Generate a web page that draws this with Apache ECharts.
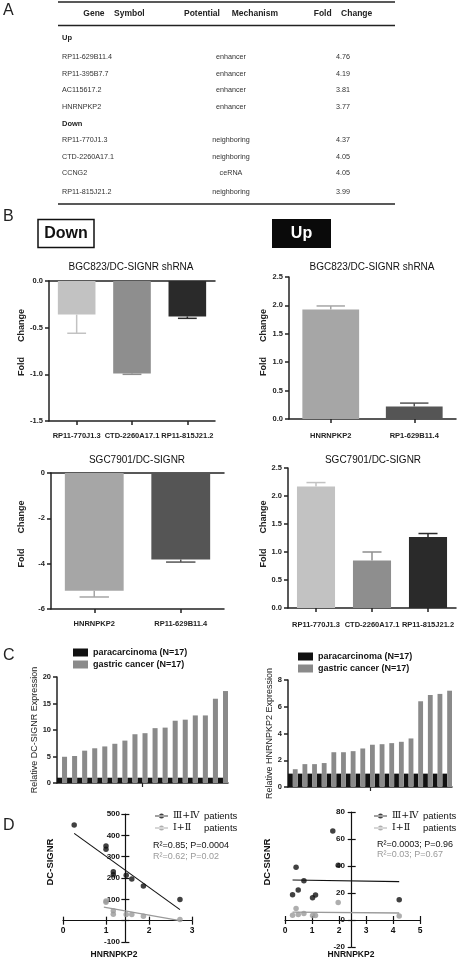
<!DOCTYPE html>
<html><head><meta charset="utf-8">
<script src="https://cdn.jsdelivr.net/npm/echarts@6/dist/echarts.min.js"></script>
<style>html,body{margin:0;padding:0;background:#fff}#c{width:468px;height:960px}</style>
</head><body><div id="c"></div>
<script>
// ---------- Panel A : table ----------
const tableUpGenes = ['RP11-629B11.4','RP11-395B7.7','AC115617.2','HNRNPKP2'];
const tableUpMech = ['enhancer','enhancer','enhancer','enhancer'];
const tableUpFold = ['4.76','4.19','3.81','3.77'];
const tableDownGenes = ['RP11-770J1.3','CTD-2260A17.1','CCNG2','RP11-815J21.2'];
const tableDownMech = ['neighboring','neighboring','ceRNA','neighboring'];
const tableDownFold = ['4.37','4.05','4.05','3.99'];

// ---------- Panel B : qPCR fold change ----------
const bgcDownCats = ['RP11-770J1.3','CTD-2260A17.1','RP11-815J21.2'];
const bgcDownVals = [-0.36,-0.99,-0.38];
const bgcDownErr = [0.20,0.01,0.02];
const bgcUpCats = ['HNRNPKP2','RP1-629B11.4'];
const bgcUpVals = [1.93,0.22];
const bgcUpErr = [0.06,0.06];
const sgcDownCats = ['HNRNPKP2','RP11-629B11.4'];
const sgcDownVals = [-5.2,-3.82];
const sgcDownErr = [0.27,0.11];
const sgcUpCats = ['RP11-770J1.3','CTD-2260A17.1','RP11-815J21.2'];
const sgcUpVals = [2.17,0.85,1.27];
const sgcUpErr = [0.07,0.15,0.06];

// ---------- Panel C : relative expression ----------
const patientIds = ['1','2','3','4','5','6','7','8','9','10','11','12','13','14','15','16','17'];
const paraDC = [1,1,1,1,1,1,1,1,1,1,1,1,1,1,1,1,1];
const cancerDC = [4.95,5.1,6.1,6.55,6.9,7.4,8.0,9.2,9.4,10.35,10.45,11.75,11.95,12.75,12.75,15.9,17.35];
const paraHN = [1,1,1,1,1,1,1,1,1,1,1,1,1,1,1,1,1];
const cancerHN = [1.33,1.71,1.71,1.79,2.6,2.6,2.68,2.88,3.16,3.2,3.28,3.38,3.63,6.41,6.88,6.96,7.2];

// ---------- Panel D : correlation ----------
const dLeftLate = [[0.26,448],[1.0,350],[1.0,335],[1.17,229],[1.17,215],[1.47,213],[1.6,195],[1.87,163],[2.72,99]];
const dLeftEarly = [[1.0,92],[1.0,86],[1.17,46],[1.17,30],[1.47,29],[1.6,29],[1.87,21],[2.72,5]];
const dLeftLateFit = [[0.26,409],[2.72,52]];
const dLeftEarlyFit = [[0.95,63],[2.72,0]];
const dRightLate = [[0.41,39],[0.7,29],[0.49,22.3],[0.28,18.7],[1.02,16.5],[1.13,18.5],[1.77,66],[1.97,40.5],[4.23,15]];
const dRightEarly = [[0.41,8.5],[0.28,3.6],[0.49,4],[0.7,4.8],[1.02,3.4],[1.13,3.4],[1.97,13],[4.23,3]];
const dRightLateFit = [[0.28,29.6],[4.23,28.4]];
const dRightEarlyFit = [[0.28,5.8],[4.23,5.2]];
const statsLeft = ['R²=0.85; P=0.0004','R²=0.62; P=0.02'];
const statsRight = ['R²=0.0003; P=0.96','R²=0.03; P=0.67'];

// ---------- styles ----------
const AX = '#222';
const FONT = '"Liberation Sans", Arial, sans-serif';
const colLight3 = ['#c2c2c2','#8e8e8e','#2a2a2a'];
const colMid2 = ['#a6a6a6','#555555'];

function T(x, y, text, o) {
  o = o || {};
  const st = {
    text: text, x: 0, y: 0,
    font: (o.weight || 'normal') + ' ' + (o.size || 8) + 'px ' + (o.family || FONT),
    fill: o.fill || '#222',
    align: o.align || 'left', verticalAlign: 'middle',
    textAlign: o.align || 'left', textVerticalAlign: 'middle'
  };
  return {type:'text', x:x, y:y, rotation:o.rot || 0, style:st, silent:true};
}
function L(x1, y1, x2, y2, w, c) {
  return {type:'line', shape:{x1:x1,y1:y1,x2:x2,y2:y2}, style:{stroke:c||'#222', lineWidth:w||1}, silent:true};
}

// ---------- graphic (table, labels, boxes) ----------
const G = [];
G.push(T(3, 11, 'A', {size:16}));
G.push(T(3, 217, 'B', {size:16}));
G.push(T(3, 656, 'C', {size:16}));
G.push(T(3, 826, 'D', {size:16}));
// table
G.push(L(58, 2, 395, 2, 1.5));
G.push(L(58, 25.5, 395, 25.5, 1.5));
G.push(L(58, 204, 395, 204, 1.5));
G.push(T(114, 14, 'Gene    Symbol', {size:8.5, weight:'bold', align:'center'}));
G.push(T(231, 14, 'Potential     Mechanism', {size:8.5, weight:'bold', align:'center'}));
G.push(T(343, 14, 'Fold    Change', {size:8.5, weight:'bold', align:'center'}));
G.push(T(62, 38, 'Up', {size:7.5, weight:'bold'}));
tableUpGenes.forEach((g, i) => {
  const y = 57 + i * 16.6;
  G.push(T(62, y, g, {size:7.2, fill:'#333'}));
  G.push(T(231, y, tableUpMech[i], {size:7.2, fill:'#333', align:'center'}));
  G.push(T(343, y, tableUpFold[i], {size:7.2, fill:'#333', align:'center'}));
});
G.push(T(62, 123.5, 'Down', {size:7.5, weight:'bold'}));
tableDownGenes.forEach((g, i) => {
  const y = 140 + i * 16.6 + (i === 3 ? 2.5 : 0);
  G.push(T(62, y, g, {size:7.2, fill:'#333'}));
  G.push(T(231, y, tableDownMech[i], {size:7.2, fill:'#333', align:'center'}));
  G.push(T(343, y, tableDownFold[i], {size:7.2, fill:'#333', align:'center'}));
});
// Down / Up boxes
G.push({type:'rect', shape:{x:38, y:219.5, width:56, height:28}, style:{fill:'#fff', stroke:'#111', lineWidth:1.5}, silent:true});
G.push(T(66, 234, 'Down', {size:16, weight:'bold', align:'center', fill:'#111'}));
G.push({type:'rect', shape:{x:272, y:219, width:59, height:29}, style:{fill:'#0a0a0a'}, silent:true});
G.push(T(301.5, 234, 'Up', {size:16, weight:'bold', align:'center', fill:'#fff'}));
// B titles
G.push(T(131, 267, 'BGC823/DC-SIGNR shRNA', {size:10, align:'center', fill:'#111'}));
G.push(T(372, 267, 'BGC823/DC-SIGNR shRNA', {size:10, align:'center', fill:'#111'}));
G.push(T(137, 460, 'SGC7901/DC-SIGNR', {size:10, align:'center', fill:'#111'}));
G.push(T(373, 460, 'SGC7901/DC-SIGNR', {size:10, align:'center', fill:'#111'}));
// D axis titles & stats
G.push(T(50, 862, 'DC-SIGNR', {size:9.5, weight:'bold', align:'center', rot:Math.PI/2, fill:'#111'}));
G.push(T(267, 862, 'DC-SIGNR', {size:9.5, weight:'bold', align:'center', rot:Math.PI/2, fill:'#111'}));
G.push(T(114, 955, 'HNRNPKP2', {size:8.5, weight:'bold', align:'center', fill:'#111'}));
G.push(T(351, 955, 'HNRNPKP2', {size:8.5, weight:'bold', align:'center', fill:'#111'}));
G.push(T(153, 846, statsLeft[0], {size:9, fill:'#111'}));
G.push(T(153, 857, statsLeft[1], {size:9, fill:'#9a9a9a'}));
G.push(T(377, 845, statsRight[0], {size:9, fill:'#111'}));
G.push(T(377, 855, statsRight[1], {size:9, fill:'#9a9a9a'}));

// ---------- axes helpers ----------
function catAxis(grid, cats, o) {
  return Object.assign({
    type:'category', gridIndex:grid, data:cats,
    axisLine:{show:true, onZero:false, lineStyle:{color:AX, width:1.5}},
    axisTick:{show:true, alignWithLabel:true, length:4, lineStyle:{color:AX, width:1.5}},
    axisLabel:{show:true, color:AX, fontSize:7.5, fontWeight:'bold', margin:11, interval:0, fontFamily:FONT},
    splitLine:{show:false}
  }, o || {});
}
function lineOnlyAxis(grid, cats) {
  return {type:'category', gridIndex:grid, data:cats, position:'top',
    axisLine:{show:true, onZero:false, lineStyle:{color:AX, width:1.5}},
    axisTick:{show:false}, axisLabel:{show:false}, splitLine:{show:false}};
}
function valAxis(grid, min, max, interval, o) {
  return Object.assign({
    type:'value', gridIndex:grid, min:min, max:max, interval:interval,
    axisLine:{show:true, lineStyle:{color:AX, width:1.5}},
    axisTick:{show:true, length:4, lineStyle:{color:AX, width:1.5}},
    axisLabel:{show:true, color:AX, fontSize:7.5, fontWeight:'bold', margin:6, fontFamily:FONT},
    splitLine:{show:false}
  }, o || {});
}
const foldName = (gap, pad) => ({name:'Fold      Change', nameLocation:'middle', nameGap:gap,
  nameTextStyle:{fontSize:9, fontWeight:'bold', color:AX, fontFamily:FONT, padding:[0,0,0,pad]}});

function barSeries(xi, yi, vals, colors) {
  return {type:'bar', xAxisIndex:xi, yAxisIndex:yi, barWidth:'68%', silent:true,
    data: vals.map((v, i) => ({value:v, itemStyle:{color:colors[i]}}))};
}
function errSeries(xi, yi, vals, errs, colors) {
  return {
    type:'custom', xAxisIndex:xi, yAxisIndex:yi, z:3, silent:true,
    data: vals.map((v, i) => [i, v, errs[i]]),
    encode:{x:0, y:1},
    renderItem: function (params, api) {
      const i = api.value(0), v = api.value(1), e = api.value(2);
      const end = v < 0 ? v - e : v + e;
      const p0 = api.coord([i, v]), p1 = api.coord([i, end]);
      const half = api.size([1, 0])[0] * 0.68 * 0.25;
      const st = {stroke: colors[i], lineWidth: 1.5};
      return {type:'group', children:[
        {type:'line', shape:{x1:p0[0], y1:p0[1], x2:p1[0], y2:p1[1]}, style:st},
        {type:'line', shape:{x1:p1[0]-half, y1:p1[1], x2:p1[0]+half, y2:p1[1]}, style:st}
      ]};
    }
  };
}

// D panels: axes cross inside the plot (Prism style). ECharts keeps the labels
// at the grid edge when an axis sits on zero, so the label margins pull them back.
const dTickStyle = {color:'#111', width:1.2};
function dMainX(grid, max, yIdx, margin) {
  return {type:'value', gridIndex:grid, min:0, max:max, interval:1,
    axisLine:{show:true, onZero:true, onZeroAxisIndex:yIdx, lineStyle:dTickStyle},
    axisTick:{show:true, length:4, lineStyle:dTickStyle},
    axisLabel:{show:true, color:'#111', fontSize:8.5, fontWeight:'bold', margin:margin, fontFamily:FONT},
    splitLine:{show:false}};
}
function dHiddenX(grid, min, max) {
  return {type:'value', gridIndex:grid, min:min, max:max, show:false, position:'top',
    axisLine:{onZero:false}, splitLine:{show:false}};
}
function dDupX(grid, max, yIdx) {
  return {type:'value', gridIndex:grid, min:0, max:max, interval:1, position:'top',
    axisLine:{show:false, onZero:true, onZeroAxisIndex:yIdx},
    axisTick:{show:true, length:4, lineStyle:dTickStyle}, axisLabel:{show:false}, splitLine:{show:false}};
}
function dMainY(grid, min, max, itv, xIdx, hideZero, margin) {
  return {type:'value', gridIndex:grid, min:min, max:max, interval:itv, position:'left',
    axisLine:{show:true, onZero:true, onZeroAxisIndex:xIdx, lineStyle:dTickStyle},
    axisTick:{show:true, length:4, lineStyle:dTickStyle},
    axisLabel:{show:true, color:'#111', fontSize:8, fontWeight:'bold', margin:margin, fontFamily:FONT,
      formatter: v => (hideZero && v === 0) ? '' : String(v)},
    splitLine:{show:false}};
}
function dDupY(grid, min, max, itv, xIdx) {
  return {type:'value', gridIndex:grid, min:min, max:max, interval:itv, position:'right',
    axisLine:{show:false, onZero:true, onZeroAxisIndex:xIdx},
    axisTick:{show:true, length:4, lineStyle:dTickStyle}, axisLabel:{show:false}, splitLine:{show:false}};
}

const legendIcon = 'path://M0,2h13v1h-13z M4,2.5a2.5,2.5 0 1,0 5,0a2.5,2.5 0 1,0 -5,0z';
function dLegend(left, top) {
  return {left:left, top:top, orient:'vertical', itemWidth:13, itemHeight:5, itemGap:2, selectedMode:false,
    data:[{name:'Ⅲ+Ⅳ', icon:legendIcon}, {name:'Ⅰ+Ⅱ', icon:legendIcon}],
    formatter: n => '{r|' + n + '}{p|patients}',
    textStyle:{color:'#111', fontSize:9, rich:{
      r:{fontFamily:'"DejaVu Serif", "Liberation Serif", serif', fontSize:9.5, color:'#111', width:31},
      p:{fontFamily:FONT, fontSize:9.5, color:'#111'}}}};
}
function cLegend(left, top) {
  return {left:left, top:top, orient:'vertical', itemWidth:15, itemHeight:8, itemGap:3, icon:'rect', selectedMode:false,
    data:['paracarcinoma (N=17)','gastric cancer (N=17)'],
    textStyle:{color:'#111', fontSize:9, fontWeight:'bold', fontFamily:FONT}};
}
function cXAxis(grid) {
  return {type:'category', gridIndex:grid, data:patientIds,
    axisLine:{show:true, onZero:false, lineStyle:{color:AX, width:1.5}},
    axisTick:{show:true, alignWithLabel:true, length:4, interval:(idx) => idx === 8, lineStyle:{color:AX, width:1.2}},
    axisLabel:{show:false}, splitLine:{show:false}};
}
function cBars(xi, yi, para, cancer) {
  return [
    {type:'bar', name:'paracarcinoma (N=17)', xAxisIndex:xi, yAxisIndex:yi, data:para, barGap:'0%', barCategoryGap:'0%', itemStyle:{color:'#111'}, silent:true},
    {type:'bar', name:'gastric cancer (N=17)', xAxisIndex:xi, yAxisIndex:yi, data:cancer, barGap:'0%', barCategoryGap:'0%', itemStyle:{color:'#8a8a8a'}, silent:true}
  ];
}
function dSeries(xi, yi, late, early, lateFit, earlyFit) {
  return [
    {type:'scatter', name:'Ⅲ+Ⅳ', xAxisIndex:xi, yAxisIndex:yi, data:late, symbolSize:5.5, itemStyle:{color:'#111'}, z:4, silent:true},
    {type:'scatter', name:'Ⅰ+Ⅱ', xAxisIndex:xi, yAxisIndex:yi, data:early, symbolSize:5.5, itemStyle:{color:'#9a9a9a'}, z:4, silent:true},
    {type:'line', name:'Ⅲ+Ⅳ', xAxisIndex:xi, yAxisIndex:yi, data:lateFit, symbol:'none', lineStyle:{color:'#111', width:1.1}, z:3, silent:true},
    {type:'line', name:'Ⅰ+Ⅱ', xAxisIndex:xi, yAxisIndex:yi, data:earlyFit, symbol:'none', lineStyle:{color:'#9a9a9a', width:1.3}, z:3, silent:true}
  ];
}

const option = {
  animation:false,
  backgroundColor:'#fff',
  textStyle:{fontFamily:FONT},
  grid:[
    {left:49, top:281, width:166, height:140, outerBoundsMode:'none'},
    {left:289, top:277, width:167, height:142, outerBoundsMode:'none'},
    {left:51, top:473, width:173, height:136, outerBoundsMode:'none'},
    {left:288, top:468, width:168, height:140, outerBoundsMode:'none'},
    {left:57, top:677, width:171, height:106, outerBoundsMode:'none'},
    {left:288, top:680, width:164, height:107, outerBoundsMode:'none'},
    {left:63, top:814, width:129, height:128, outerBoundsMode:'none'},
    {left:285, top:812, width:135, height:135, outerBoundsMode:'none'}
  ],
  legend:[cLegend(68, 643), cLegend(293, 647), dLegend(150, 806), dLegend(369, 806)],
  xAxis:[
    catAxis(0, bgcDownCats),                    // 0
    lineOnlyAxis(0, bgcDownCats),               // 1
    catAxis(1, bgcUpCats, {axisLabel:{show:true, color:AX, fontSize:7.5, fontWeight:'bold', margin:13, interval:0, fontFamily:FONT}}), // 2
    catAxis(2, sgcDownCats),                    // 3
    lineOnlyAxis(2, sgcDownCats),               // 4
    catAxis(3, sgcUpCats, {axisLabel:{show:true, color:AX, fontSize:7.5, fontWeight:'bold', margin:13, interval:0, fontFamily:FONT}}), // 5
    cXAxis(4),                                  // 6
    cXAxis(5),                                  // 7
    dMainX(6, 3, 6, -15.5),                     // 8
    dHiddenX(6, -1.45, 1.55),                   // 9
    dDupX(6, 3, 6),                             // 10
    dMainX(7, 5, 8, -21),                       // 11
    dHiddenX(7, -2.47, 2.53),                   // 12
    dDupX(7, 5, 8)                              // 13
  ],
  yAxis:[
    Object.assign(valAxis(0, -1.5, 0, 0.5, {axisLabel:{show:true, color:AX, fontSize:7.5, fontWeight:'bold', margin:6, fontFamily:FONT, formatter:v => v.toFixed(1)}}), foldName(21, 17)),
    Object.assign(valAxis(1, 0, 2.5, 0.5, {axisLabel:{show:true, color:AX, fontSize:7.5, fontWeight:'bold', margin:6, fontFamily:FONT, formatter:v => v.toFixed(1)}}), foldName(21, 11)),
    Object.assign(valAxis(2, -6, 0, 2), foldName(25, 14)),
    Object.assign(valAxis(3, 0, 2.5, 0.5, {axisLabel:{show:true, color:AX, fontSize:7.5, fontWeight:'bold', margin:6, fontFamily:FONT, formatter:v => v.toFixed(1)}}), foldName(20, 8)),
    valAxis(4, 0, 20, 5, {name:'Relative DC-SIGNR Expression', nameLocation:'middle', nameGap:15, nameTextStyle:{fontSize:9, color:AX, fontFamily:FONT}}),
    valAxis(5, 0, 8, 2, {name:'Relative HNRNPKP2 Expression', nameLocation:'middle', nameGap:13, nameTextStyle:{fontSize:9, color:AX, fontFamily:FONT}}),
    dMainY(6, -100, 500, 100, 9, true, -57),   // 6
    dDupY(6, -100, 500, 100, 9),               // 7
    dMainY(7, -20, 80, 20, 12, false, -60),    // 8
    dDupY(7, -20, 80, 20, 12)                  // 9
  ],
  series:[
    barSeries(0, 0, bgcDownVals, colLight3), errSeries(0, 0, bgcDownVals, bgcDownErr, colLight3),
    barSeries(2, 1, bgcUpVals, colMid2), errSeries(2, 1, bgcUpVals, bgcUpErr, colMid2),
    barSeries(3, 2, sgcDownVals, colMid2), errSeries(3, 2, sgcDownVals, sgcDownErr, colMid2),
    barSeries(5, 3, sgcUpVals, colLight3), errSeries(5, 3, sgcUpVals, sgcUpErr, colLight3),
    ...cBars(6, 4, paraDC, cancerDC),
    ...cBars(7, 5, paraHN, cancerHN),
    ...dSeries(8, 6, dLeftLate, dLeftEarly, dLeftLateFit, dLeftEarlyFit),
    ...dSeries(11, 8, dRightLate, dRightEarly, dRightLateFit, dRightEarlyFit)
  ],
  graphic:G
};
const chart = echarts.init(document.getElementById('c'), null, {renderer:'canvas', width:468, height:960});
chart.setOption(option);
</script></body></html>
